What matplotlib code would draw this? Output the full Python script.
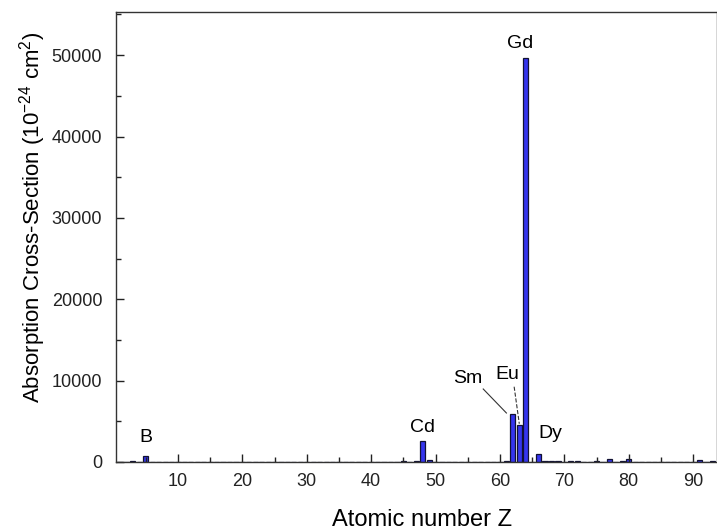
import numpy as np
import matplotlib
matplotlib.use("Agg")
import matplotlib.pyplot as plt
from matplotlib.ticker import MultipleLocator

# thermal neutron absorption cross sections (barn = 1e-24 cm^2), Z = 1..93
z = np.arange(1, 94)
sigma = [0.33, 0.007, 70.5, 0.008, 767, 0.0035, 1.9, 0.0002, 0.01, 0.039,
         0.53, 0.063, 0.23, 0.17, 0.17, 0.53, 33.5, 0.68, 2.1, 0.43,
         27.5, 6.1, 5.1, 3.05, 13.3, 2.56, 37.2, 4.49, 3.78, 1.11,
         2.75, 2.2, 4.5, 11.7, 6.9, 25, 0.38, 1.28, 1.28, 0.185,
         1.15, 2.48, 20, 2.56, 144.8, 6.9, 63.3, 2520, 193.8, 0.63,
         4.91, 4.7, 6.15, 23.9, 29, 1.1, 8.97, 0.63, 11.5, 50.5,
         168.4, 5922, 4530, 49700, 23.4, 994, 64.7, 159, 100, 34.8,
         74, 104.1, 20.6, 18.3, 89.7, 16, 425, 10.3, 98.7, 372.3,
         3.43, 0.17, 0.034, 0, 0, 0, 0, 12.8, 0, 7.37,
         200.6, 7.57, 175.9]

labels = ["B", "Cd", "Sm", "Eu", "Gd", "Dy"]
label_x = [5, 48, 55.0, 61.2, 63.1, 67.8]
label_y = [2950, 4180, 10320, 10810, 51470, 3440]

plt.rcParams['font.family'] = ['Liberation Sans', 'DejaVu Sans']
plt.rcParams['mathtext.default'] = 'regular'

fig = plt.figure(figsize=(7.17, 5.32), dpi=100)
ax = fig.add_axes([0.162, 0.1316, 0.838, 0.8458])

ax.bar(z, sigma, width=0.8, color='#3535ee', edgecolor='#111133', linewidth=0.9)

for t, x, y in zip(labels, label_x, label_y):
    ax.text(x, y, t, ha='center', va='center', fontsize=14)

# leader lines for Sm and Eu
ax.plot([57.4, 61.0], [8970, 6020], color='#333333', lw=0.8)
ax.plot([62.2, 63.0], [9250, 4700], color='#333333', lw=0.8, ls='--')

ax.set_xlim(0.4, 93.7)
ax.set_ylim(0, 55300)
ax.xaxis.set_major_locator(MultipleLocator(10))
ax.xaxis.set_minor_locator(MultipleLocator(5))
ax.yaxis.set_major_locator(MultipleLocator(10000))
ax.yaxis.set_minor_locator(MultipleLocator(5000))
ax.tick_params(which='both', direction='in', labelsize=13, colors='#222222')
ax.tick_params(which='major', length=6, width=1)
ax.tick_params(which='minor', length=3.5, width=1)
ax.tick_params(axis='x', pad=8)
ax.tick_params(axis='y', pad=10)
for s in ax.spines.values():
    s.set_color('#333333')
    s.set_linewidth(1)

ax.set_xlabel('Atomic number Z', fontsize=17)
ax.set_ylabel('Absorption Cross-Section (10$^{-24}$ cm$^2$)', fontsize=16)
ax.xaxis.set_label_coords(0.509, -0.104)
ax.yaxis.set_label_coords(-0.113, 0.544)

fig.savefig('out.png', dpi=100)
